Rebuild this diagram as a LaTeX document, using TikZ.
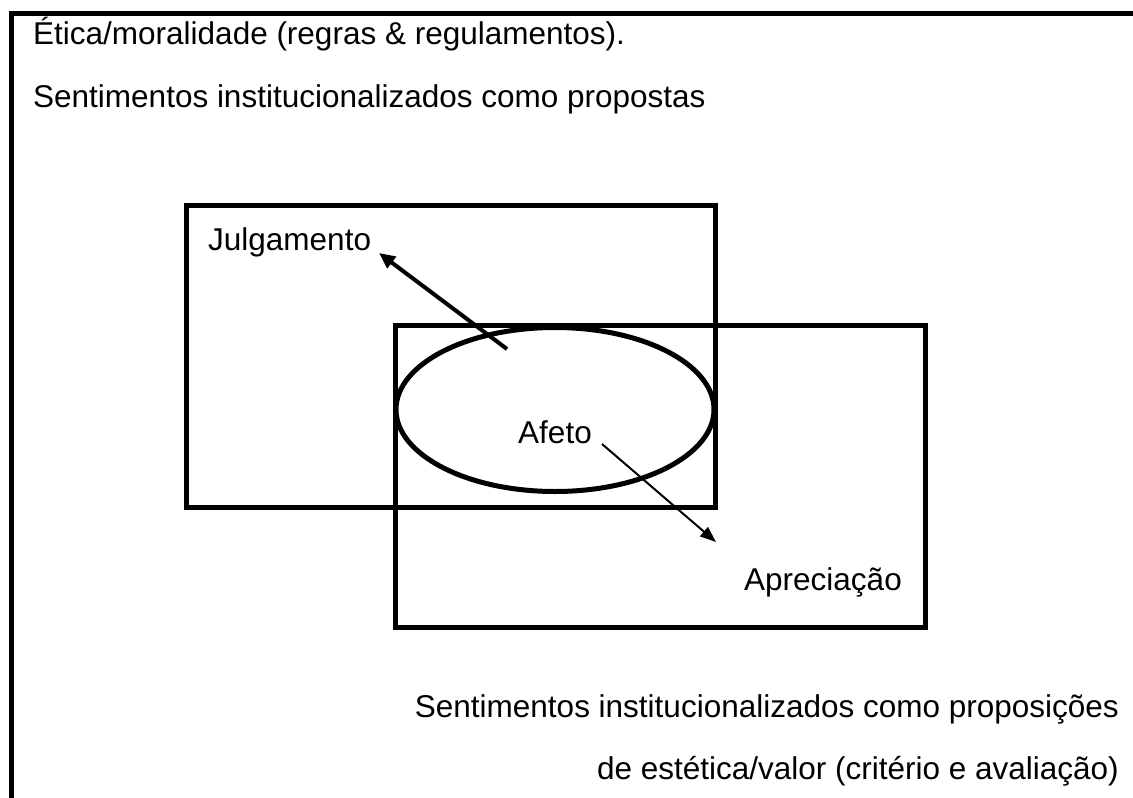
\documentclass[tikz,border=0pt]{standalone}
\usepackage{fontspec}
\setmainfont{Liberation Sans}
\usetikzlibrary{arrows.meta,positioning}

\begin{document}
\begin{tikzpicture}[x=1pt,y=-1pt,
        frame/.style={line width=5pt},
        label/.style={font=\fontsize{31.5}{38}\selectfont,inner sep=0pt}]
    \useasboundingbox (0,0) rectangle (1133,798);
    % outer frame (top and left only)
    \draw[frame] (11,798) -- (11,13.5) -- (1133,13.5);
    \node[label,anchor=base west] (etica) at (33,44) {Ética/moralidade (regras \& regulamentos).};
    \node[label,anchor=base west] (propostas) at (33,107) {Sentimentos institucionalizados como propostas};
    % the two overlapping fields and affect
    \draw[frame] (186.5,205.5) rectangle (715.5,507.5);
    \draw[frame] (395,325.5) rectangle (925,627.5);
    \draw[frame] (555,409.5) ellipse (159 and 82);
    \node[label,anchor=base] (afeto) at (555,443) {Afeto};
    \node[label,anchor=base west] (julg) at (208,250) {Julgamento};
    \node[label,anchor=base west] (aprec) at (744,590) {Apreciação};
    \coordinate (ja) at (507,349);
    \coordinate (jb) at (379,253);
    \coordinate (aa) at (602,444);
    \coordinate (ab) at (716,542);
    \draw[line width=4pt,-{Triangle[length=16pt,width=14pt]}] (ja) -- (jb);
    \draw[line width=2pt,-{Triangle[length=16pt,width=12pt]}] (aa) -- (ab);
    \node[label,anchor=base east] (proposicoes) at (1119,717) {Sentimentos institucionalizados como proposições};
    \node[label,anchor=base east] (estetica) at (1119,779) {de estética/valor (critério e avaliação)};
\end{tikzpicture}
\end{document}
